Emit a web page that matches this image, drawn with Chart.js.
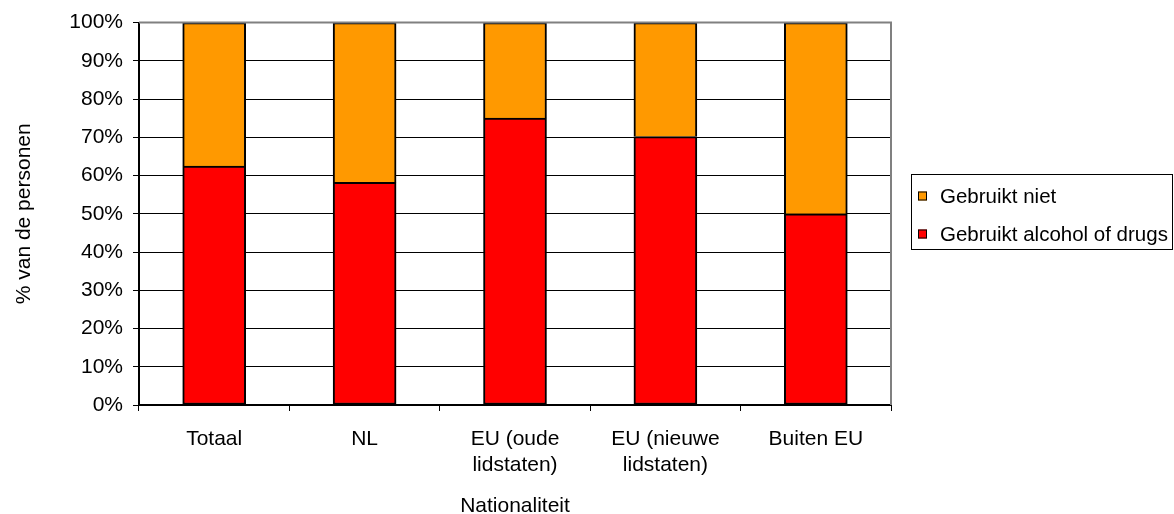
<!DOCTYPE html>
<html>
<head>
<meta charset="utf-8">
<script src="https://cdn.jsdelivr.net/npm/chart.js@4"></script>
<style>
  body { margin: 0; background: #fff; }
  #wrap { width: 1174px; height: 514px; }
</style>
</head>
<body>
<div id="wrap"><canvas id="chart" width="1174" height="514"></canvas></div>
<script>
"use strict";

// categories on the x axis
const categories = [
  "Totaal",
  "NL",
  ["EU (oude", "lidstaten)"],
  ["EU (nieuwe", "lidstaten)"],
  "Buiten EU",
];
// % per category
const gebruiktAlcoholDrugs = [62.5, 58.2, 75.0, 70.2, 50.0];
const gebruiktNiet = [37.5, 41.8, 25.0, 29.8, 50.0];
const yTicks = [0, 10, 20, 30, 40, 50, 60, 70, 80, 90, 100];

const FONT = "'Liberation Sans', Arial, sans-serif";
Chart.defaults.font.family = FONT;
Chart.defaults.font.size = 21;
Chart.defaults.color = "#000";

// gray frame on top / right of plot
const frame = {
  id: "frame",
  afterDatasetsDraw(chart) {
    const { ctx, chartArea: a } = chart;
    ctx.save();
    ctx.strokeStyle = "#808080";
    ctx.lineWidth = 2;
    ctx.beginPath();
    ctx.moveTo(a.left, a.top);
    ctx.lineTo(a.right, a.top);
    ctx.lineTo(a.right, a.bottom);
    ctx.stroke();
    ctx.restore();
  },
};

// legend box at the right, top item = last dataset
const boxLegend = {
  id: "boxLegend",
  afterDraw(chart) {
    const ctx = chart.ctx;
    const sets = chart.data.datasets.slice().reverse();
    ctx.save();
    ctx.strokeStyle = "#000";
    ctx.lineWidth = 1;
    ctx.strokeRect(911.5, 174.5, 261, 75);
    ctx.font = "20.5px " + FONT;
    ctx.textBaseline = "middle";
    ctx.textAlign = "left";
    sets.forEach((ds, i) => {
      const cy = 196 + i * 38;
      ctx.fillStyle = ds.backgroundColor;
      ctx.fillRect(918, cy - 4.5, 9, 9);
      ctx.strokeRect(918.5, cy - 4, 8, 8);
      ctx.fillStyle = "#000";
      ctx.fillText(ds.label, 940, cy + 1);
    });
    ctx.restore();
  },
};

new Chart(document.getElementById("chart"), {
  type: "bar",
  data: {
    labels: categories,
    datasets: [
      {
        label: "Gebruikt alcohol of drugs",
        data: gebruiktAlcoholDrugs,
        backgroundColor: "#ff0000",
        borderColor: "#000",
        borderWidth: 2,
        borderSkipped: false,
      },
      {
        label: "Gebruikt niet",
        data: gebruiktNiet,
        backgroundColor: "#ff9900",
        borderColor: "#000",
        borderWidth: 2,
        borderSkipped: "bottom",
      },
    ],
  },
  options: {
    responsive: false,
    animation: false,
    layout: { padding: { left: 0, top: 21, right: 283, bottom: 0 } },
    datasets: { bar: { barThickness: 63 } },
    plugins: { legend: { display: false }, tooltip: { enabled: false } },
    scales: {
      x: {
        stacked: true,
        afterFit: (s) => { s.height = 109; },
        grid: { drawOnChartArea: false, tickLength: 6, color: "#000", lineWidth: 1 },
        border: { color: "#000", width: 2 },
        ticks: { padding: 15, maxRotation: 0, font: { size: 21, lineHeight: 1.25 } },
        title: {
          display: true,
          text: "Nationaliteit",
          font: { size: 21, lineHeight: 1.2 },
          padding: { top: 0, bottom: -5 },
        },
      },
      y: {
        stacked: true,
        min: 0,
        max: 100,
        afterFit: (s) => { s.width = 139; },
        afterBuildTicks: (s) => { s.ticks = yTicks.map((v) => ({ value: v })); },
        grid: {
          color: (c) => (c.tick && c.tick.value === 100 ? "#808080" : "#000"),
          tickColor: "#000",
          tickLength: 6,
          lineWidth: 1,
        },
        border: { color: "#000", width: 2 },
        ticks: { padding: 10, callback: (v) => v + "%" },
        title: {
          display: true,
          text: "% van de personen",
          font: { size: 21, lineHeight: 1.2 },
          padding: { top: 12, bottom: 0 },
        },
      },
    },
  },
  plugins: [frame, boxLegend],
});
</script>
</body>
</html>
